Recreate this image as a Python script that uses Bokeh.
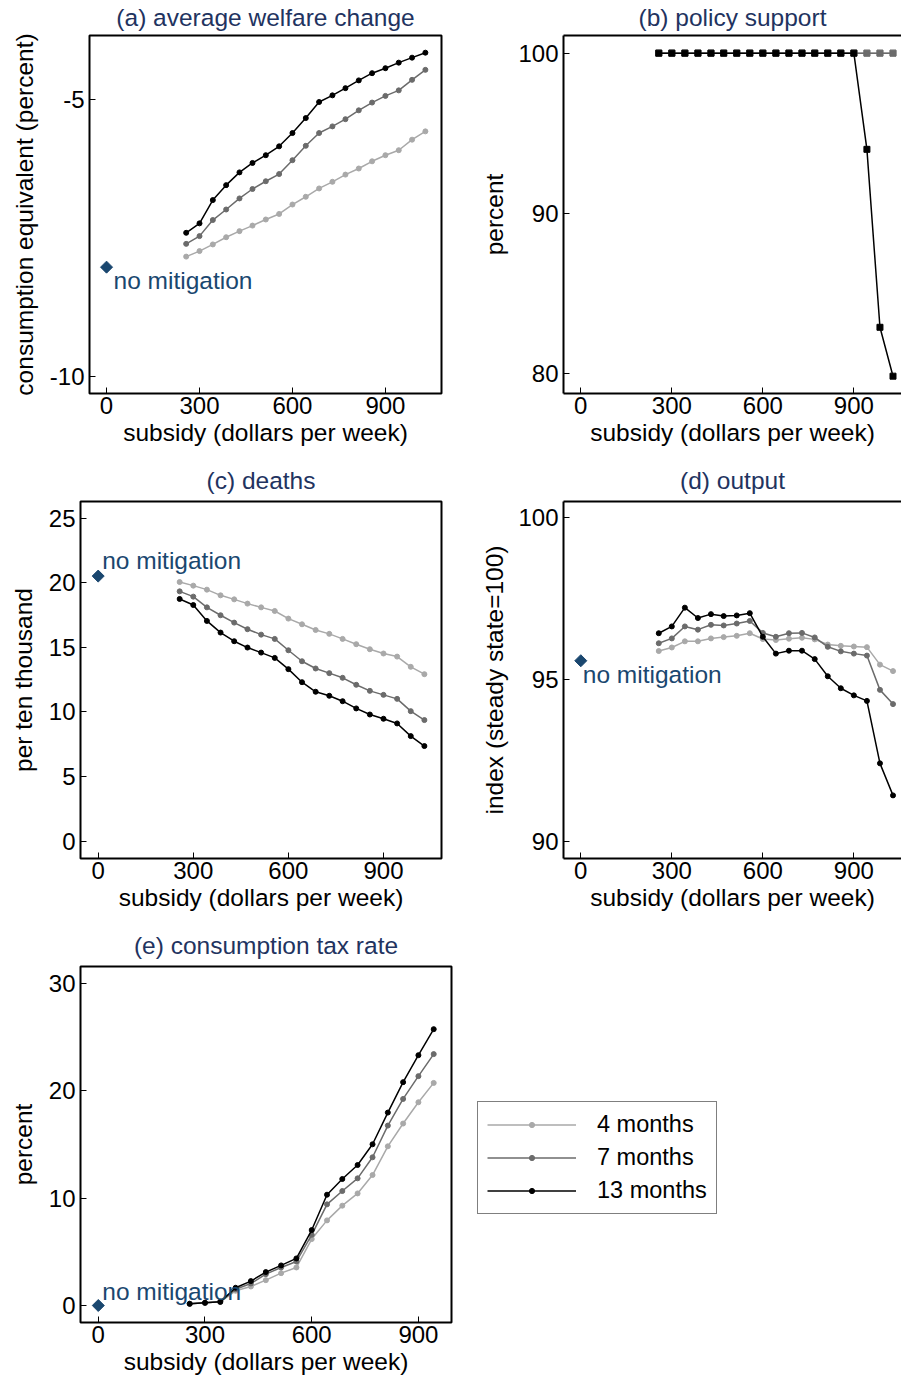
from bokeh.plotting import figure
from bokeh.models import FixedTicker, LinearAxis, Range1d, Legend, LegendItem, PrintfTickFormatter
from bokeh.layouts import row, column
from bokeh.embed import file_html
from bokeh.resources import INLINE
from bokeh.core.properties import value

# ---------------- data ----------------
subsidy = [257, 300, 343, 386, 429, 471, 514, 557, 600, 643,
           686, 729, 771, 814, 857, 900, 943, 986, 1029]
subsidy_tax = [257, 300, 343, 386, 429, 471, 514, 557, 600, 643,
               686, 729, 771, 814, 857, 900, 943]
no_mitigation_x = 0

welfare_4 = [-7.84, -7.74, -7.62, -7.49, -7.38, -7.28, -7.17, -7.07, -6.90, -6.76,
             -6.61, -6.49, -6.36, -6.25, -6.12, -6.01, -5.92, -5.73, -5.58]
welfare_7 = [-7.61, -7.47, -7.18, -6.99, -6.79, -6.62, -6.48, -6.35, -6.10, -5.84,
             -5.61, -5.49, -5.36, -5.20, -5.06, -4.94, -4.84, -4.65, -4.47]
welfare_13 = [-7.41, -7.24, -6.82, -6.55, -6.32, -6.15, -6.01, -5.85, -5.61, -5.34,
              -5.05, -4.93, -4.80, -4.66, -4.53, -4.44, -4.34, -4.25, -4.16]
welfare_none = -8.03

support_4 = [100, 100, 100, 100, 100, 100, 100, 100, 100, 100,
             100, 100, 100, 100, 100, 100, 100, 100, 100]
support_7 = [100, 100, 100, 100, 100, 100, 100, 100, 100, 100,
             100, 100, 100, 100, 100, 100, 100, 100, 100]
support_13 = [100, 100, 100, 100, 100, 100, 100, 100, 100, 100,
              100, 100, 100, 100, 100, 100, 94.0, 82.9, 79.85]

deaths_4 = [20.05, 19.77, 19.46, 19.02, 18.71, 18.38, 18.09, 17.81, 17.22, 16.78,
            16.34, 16.04, 15.65, 15.24, 14.85, 14.52, 14.28, 13.49, 12.92]
deaths_7 = [19.33, 18.92, 18.09, 17.48, 16.91, 16.40, 15.98, 15.65, 14.77, 13.92,
            13.36, 13.00, 12.64, 12.10, 11.63, 11.32, 11.01, 10.06, 9.37]
deaths_13 = [18.74, 18.27, 17.04, 16.14, 15.47, 14.98, 14.59, 14.18, 13.31, 12.30,
             11.56, 11.25, 10.83, 10.27, 9.80, 9.47, 9.11, 8.13, 7.36]
deaths_none = 20.51

output_4 = [95.88, 95.99, 96.18, 96.18, 96.27, 96.31, 96.35, 96.43, 96.25, 96.22,
            96.26, 96.29, 96.24, 96.08, 96.04, 96.02, 96.00, 95.46, 95.26]
output_7 = [96.12, 96.27, 96.64, 96.54, 96.69, 96.67, 96.73, 96.81, 96.44, 96.32,
            96.43, 96.44, 96.30, 96.01, 95.87, 95.80, 95.74, 94.68, 94.24]
output_13 = [96.43, 96.64, 97.22, 96.90, 97.02, 96.96, 96.98, 97.05, 96.32, 95.80,
             95.89, 95.89, 95.63, 95.10, 94.73, 94.51, 94.34, 92.41, 91.42]
output_none = 95.58

tax_4 = [0.16, 0.25, 0.34, 1.37, 1.77, 2.36, 3.01, 3.54, 6.18, 7.92,
         9.29, 10.43, 12.14, 14.81, 16.93, 18.91, 20.71]
tax_7 = [0.16, 0.25, 0.34, 1.52, 2.05, 2.92, 3.54, 4.10, 6.58, 9.41,
         10.65, 11.83, 13.79, 16.74, 19.22, 21.34, 23.39]
tax_13 = [0.16, 0.25, 0.34, 1.65, 2.27, 3.11, 3.73, 4.38, 7.02, 10.31,
          11.77, 13.07, 15.00, 17.95, 20.78, 23.29, 25.71]
tax_none = 0.0

x_ticks = [0, 300, 600, 900]
series_labels = ["4 months", "7 months", "13 months"]
series_colors = ["#a9a9a9", "#6b6b6b", "#000000"]

# ---------------- style ----------------
FONT = "Liberation Sans"
TITLE_COLOR = "#22335f"
NAVY = "#1a476f"
TICK_SIZE = "24px"
LABEL_SIZE = "24.5px"


def make_panel(width, height, borders, xr, yr, yticks, ylabel, title,
               three_sided=False, title_standoff=5, ylabel_standoff=9):
    left, right, top, bottom = borders
    p = figure(width=width, height=height, x_range=Range1d(*xr), y_range=Range1d(*yr),
               output_backend="svg", toolbar_location=None,
               min_border_left=left, min_border_right=right,
               min_border_top=top, min_border_bottom=bottom)
    p.xgrid.visible = False
    p.ygrid.visible = False
    p.background_fill_color = "white"
    p.border_fill_color = "white"
    p.title.text = title
    p.title.align = "center"
    p.title.vertical_align = "top"
    p.title.standoff = title_standoff
    p.title.text_font = FONT
    p.title.text_font_size = LABEL_SIZE
    p.title.text_font_style = "normal"
    p.title.text_color = TITLE_COLOR
    p.xaxis.ticker = FixedTicker(ticks=x_ticks)
    p.yaxis.ticker = FixedTicker(ticks=yticks)
    p.xaxis.formatter = PrintfTickFormatter(format="%d")
    p.yaxis.formatter = PrintfTickFormatter(format="%d")
    p.xaxis.axis_label = "subsidy (dollars per week)"
    p.yaxis.axis_label = ylabel
    for ax in [p.xaxis[0], p.yaxis[0]]:
        ax.major_tick_in = 6
        ax.major_tick_out = 0
        ax.major_tick_line_color = "black"
        ax.major_tick_line_width = 1
        ax.minor_tick_line_color = None
        ax.major_label_text_font = FONT
        ax.major_label_text_font_size = TICK_SIZE
        ax.major_label_text_color = "black"
        ax.axis_label_text_font = FONT
        ax.axis_label_text_font_size = LABEL_SIZE
        ax.axis_label_text_font_style = "normal"
        ax.axis_label_text_color = "black"
    p.xaxis.major_label_standoff = 3
    p.xaxis.axis_label_standoff = 2
    p.yaxis.major_label_standoff = 5
    p.yaxis.axis_label_standoff = ylabel_standoff
    if three_sided:
        p.outline_line_color = None
        for ax in [p.xaxis[0], p.yaxis[0]]:
            ax.axis_line_color = "black"
            ax.axis_line_width = 2
        top_ax = LinearAxis(ticker=FixedTicker(ticks=[]), axis_line_color="black",
                            axis_line_width=2, major_tick_line_color=None,
                            major_tick_in=0, major_tick_out=0, major_label_standoff=0,
                            minor_tick_line_color=None, minor_tick_in=0, minor_tick_out=0,
                            major_label_text_font_size="0px")
        p.add_layout(top_ax, "above")
    else:
        p.outline_line_color = "black"
        p.outline_line_width = 2
        p.outline_line_alpha = 1
        for ax in [p.xaxis[0], p.yaxis[0]]:
            ax.axis_line_color = None
    return p


def add_series(p, xs, ys_list, marker="circle", size=5):
    for ys, color in zip(ys_list, series_colors):
        p.line(xs, ys, line_color=color, line_width=1.5)
        p.scatter(xs, ys, marker=marker, size=size, fill_color=color, line_color=color)


def add_none(p, yv, dx, dy):
    p.scatter([no_mitigation_x], [yv], marker="square", angle=0.785398, size=8.5,
              fill_color=NAVY, line_color=NAVY)
    p.text([no_mitigation_x], [yv], text=["no mitigation"], x_offset=dx, y_offset=dy,
           text_align="left", text_baseline="alphabetic", text_font=value(FONT),
           text_font_size=LABEL_SIZE, text_color=NAVY)


# (a)
pa = make_panel(477, 459, (89, 36, 35, 66), (-55, 1081), (-10.31, -3.85), [-10, -5],
                "consumption equivalent (percent)", "(a) average welfare change")
add_series(pa, subsidy, [welfare_4, welfare_7, welfare_13])
add_none(pa, welfare_none, 7, 13)

# (b)
pb = make_panel(424, 459, (86, 0, 35, 66), (-57, 1057), (78.77, 101.1), [80, 90, 100],
                "percent", "(b) policy support", three_sided=True, ylabel_standoff=7)
add_series(pb, subsidy, [support_4, support_7, support_13], marker="square", size=6)

# (c)
pc = make_panel(477, 465, (80, 36, 42, 66), (-55.8, 1083), (-1.34, 26.28),
                [0, 5, 10, 15, 20, 25], "per ten thousand", "(c) deaths", title_standoff=12)
add_series(pc, subsidy, [deaths_4, deaths_7, deaths_13])
add_none(pc, deaths_none, 4, -16)

# (d)
pd_ = make_panel(424, 465, (86, 0, 42, 66), (-57, 1057), (89.47, 100.5), [90, 95, 100],
                 "index (steady state=100)", "(d) output", three_sided=True,
                 title_standoff=12, ylabel_standoff=7)
add_series(pd_, subsidy, [output_4, output_7, output_13])
add_none(pd_, output_none, 2, 14)

# (e)
pe = make_panel(470, 455, (80, 19, 42, 57), (-50, 993), (-1.58, 31.54), [0, 10, 20, 30],
                "percent", "(e) consumption tax rate", title_standoff=12)
add_series(pe, subsidy_tax, [tax_4, tax_7, tax_13])
add_none(pe, tax_none, 4, -14)

# legend panel (its renderers lie outside the visible ranges; only the legend shows)
pl = figure(width=431, height=455, x_range=Range1d(-2, -1), y_range=Range1d(-2, -1),
            output_backend="svg", toolbar_location=None, min_border=0,
            x_axis_location=None, y_axis_location=None)
pl.xgrid.visible = False
pl.ygrid.visible = False
pl.outline_line_color = None
items = []
for lab, ys, color in zip(series_labels, [tax_4, tax_7, tax_13], series_colors):
    lr = pl.line(subsidy_tax, ys, line_color=color, line_width=1.5)
    sr = pl.scatter(subsidy_tax, ys, marker="circle", size=5, fill_color=color, line_color=color)
    items.append(LegendItem(label=lab, renderers=[lr, sr]))
leg = Legend(items=items, location=(7, 108), glyph_width=89, glyph_height=13,
             label_standoff=21, spacing=6, padding=9, margin=0,
             border_line_color="black", border_line_width=1.3,
             label_text_font=FONT, label_text_font_size="23.5px", label_height=26,
             label_text_color="black",
             label_text_baseline="middle", background_fill_color="white")
pl.add_layout(leg, "center")

layout = column(row(pa, pb), row(pc, pd_), row(pe, pl))

with open("out.html", "w") as f:
    f.write(file_html(layout, INLINE))
